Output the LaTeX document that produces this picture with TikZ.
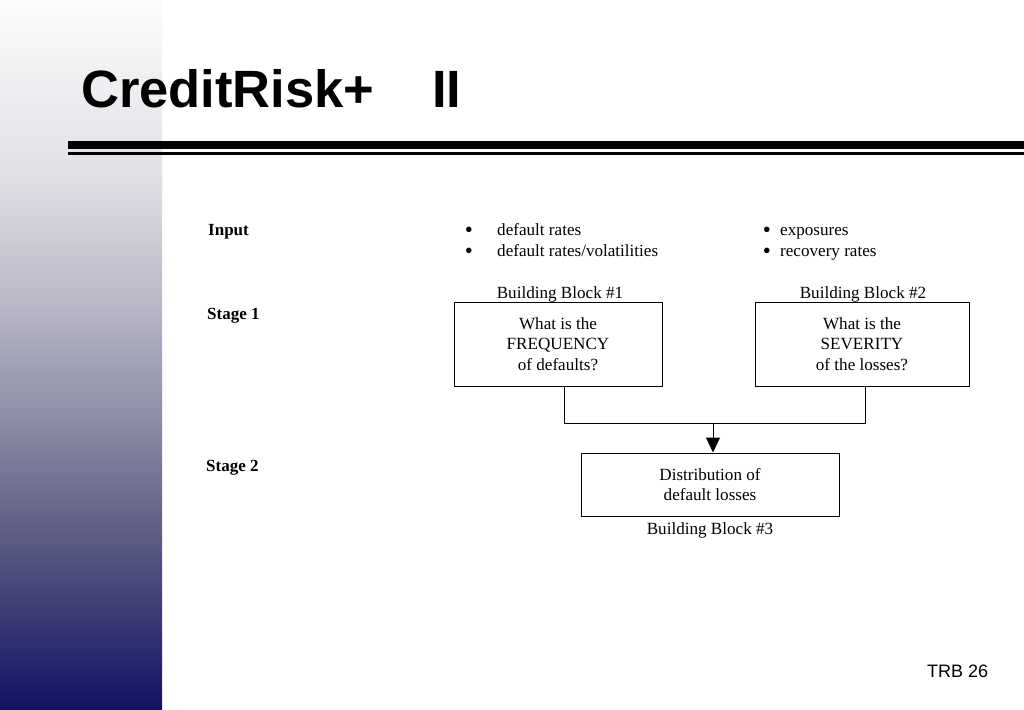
\documentclass[tikz,border=0pt]{standalone}
\usepackage{fontspec}
\setmainfont{Liberation Serif}
\newfontfamily\hv{Liberation Sans}
\usetikzlibrary{arrows.meta}
\definecolor{cA}{RGB}{18,18,100}
\definecolor{cB}{RGB}{90,90,130}
\definecolor{cC}{RGB}{140,140,165}
\definecolor{cD}{RGB}{185,185,200}
\definecolor{cE}{RGB}{225,225,230}
\definecolor{cF}{RGB}{252,252,253}
\pgfdeclareverticalshading{sidebar}{100bp}{color(0bp)=(cA); color(25bp)=(cA); color(36.9bp)=(cB); color(45.4bp)=(cC); color(53.8bp)=(cD); color(63bp)=(cE); color(75bp)=(cF); color(100bp)=(cF)}
\tikzset{
  body/.style={font=\fontsize{17.1}{20.5}\selectfont, inner sep=0pt},
  bul/.style={font=\fontsize{23}{20}\selectfont, inner sep=0pt, anchor=base},
  lab/.style={font=\fontsize{17}{20}\selectfont\bfseries, inner sep=0pt, anchor=base west},
  blockbox/.style={draw, line width=1pt, align=center, font=\fontsize{17.1}{20.5}\selectfont, inner sep=0pt},
  conn/.style={line width=1pt}
}
\begin{document}
\begin{tikzpicture}[x=1pt,y=-1pt]
\useasboundingbox (0,0) rectangle (1024,709);
\fill[white] (0,0) rectangle (1024,709);
\shade[shading=sidebar] (0,0) rectangle (162,709);
% title
\node[font=\hv\fontsize{52.5}{60}\selectfont\bfseries, inner sep=0pt, anchor=base west] (title) at (81,107) {CreditRisk+};
\node[font=\hv\fontsize{52.5}{60}\selectfont\bfseries, inner sep=0pt, anchor=base west] (title2) at (432,107) {II};
\fill[black] (68,141) rectangle (1024,149);
\fill[black] (68,152) rectangle (1024,154.5);
% stage labels
\node[lab] (input) at (208,235) {Input};
\node[lab] (st1) at (207,319) {Stage 1};
\node[lab] (st2) at (206,471) {Stage 2};
% inputs
\node[bul] (b1a) at (469,237) {•};
\node[body, anchor=base west] (t1a) at (497,235) {default rates};
\node[bul] (b1b) at (469,258) {•};
\node[body, anchor=base west] (t1b) at (497,256) {default rates/volatilities};
\node[bul] (b2a) at (767,237) {•};
\node[body, anchor=base west] (t2a) at (780,235) {exposures};
\node[bul] (b2b) at (767,258) {•};
\node[body, anchor=base west] (t2b) at (780,256) {recovery rates};
% blocks
\node[body, anchor=base] (bb1) at (560,298) {Building Block \#1};
\node[body, anchor=base] (bb2) at (863,298) {Building Block \#2};
\node[blockbox, minimum width=208pt, minimum height=84pt] (box1) at (558,344) {What is the\\FREQUENCY\\of defaults?};
\node[blockbox, minimum width=214pt, minimum height=84pt] (box2) at (862,344) {What is the\\SEVERITY\\of the losses?};
\node[blockbox, minimum width=258pt, minimum height=63pt] (box3) at (710,484.5) {Distribution of\\default losses};
\node[body, anchor=base] (bb3) at (710,534) {Building Block \#3};
% connectors
\coordinate (j1) at (564,423);
\coordinate (j2) at (865,423);
\coordinate (jm) at (713,423);
\draw[conn] (box1.south -| j1) |- (j2) -- (box2.south -| j2);
\draw[conn, -{Triangle[width=14pt,length=15pt]}] (jm) -- (box3.north -| jm);
% page number
\node[font=\hv\fontsize{18}{20}\selectfont, inner sep=0pt, anchor=base west] (pg) at (927,677) {TRB 26};
\end{tikzpicture}
\end{document}
